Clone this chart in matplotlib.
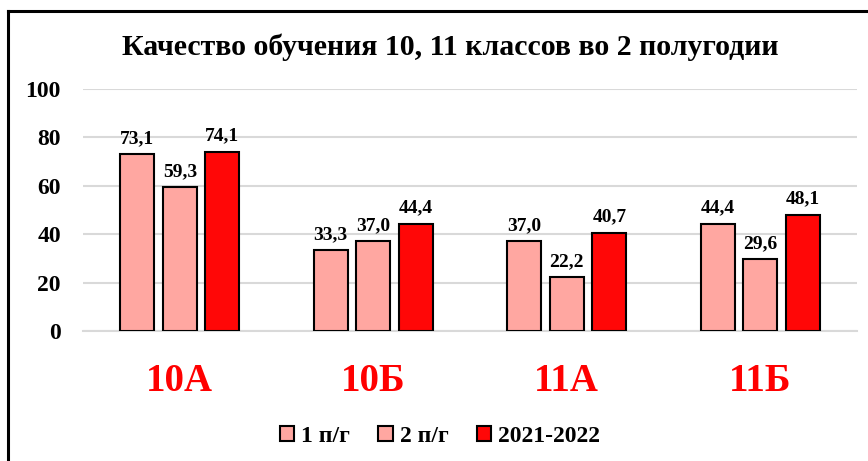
import matplotlib
matplotlib.use("Agg")
import matplotlib.pyplot as plt
from matplotlib.lines import Line2D
from matplotlib.patches import Patch
import numpy as np

plt.rcParams['font.family'] = ['Liberation Serif', 'DejaVu Serif']
plt.rcParams['font.weight'] = 'bold'

classes = ["10А", "10Б", "11А", "11Б"]
series_names = ["1 п/г", "2 п/г", "2021-2022"]
half1 = [73.1, 33.3, 37.0, 44.4]
half2 = [59.3, 37.0, 22.2, 29.6]
year = [74.1, 44.4, 40.7, 48.1]
colors = ["#FFA7A1", "#FFA7A1", "#FF0707"]
title = "Качество обучения 10, 11 классов во 2 полугодии"

W, H = 868, 461
fig = plt.figure(figsize=(W / 100, H / 100), dpi=100)
ax = fig.add_axes([83 / W, 1 - 331 / H, (857 - 83) / W, (331 - 89) / H])

x = np.arange(len(classes))
width = 0.176
step = 0.22
for i, (vals, col) in enumerate(zip([half1, half2, year], colors)):
    bars = ax.bar(x + (i - 1) * step, vals, width=width, color=col,
                  edgecolor="black", linewidth=1.5, zorder=3)
    for b, v in zip(bars, vals):
        ax.annotate(f"{v:.1f}".replace(".", ","),
                    (b.get_x() + b.get_width() / 2, v),
                    xytext=(0, 5), textcoords="offset points",
                    ha="center", va="bottom", fontsize=14, fontweight="bold")

ax.set_xlim(-0.5, 3.5)
ax.set_ylim(0, 100)
ax.set_yticks(range(0, 101, 20))
ax.yaxis.grid(True, color="#D9D9D9", linewidth=1.5, zorder=0)
ax.set_axisbelow(True)
for s in ["top", "right", "left"]:
    ax.spines[s].set_visible(False)
ax.spines["bottom"].set_color("#D9D9D9")
ax.spines["bottom"].set_linewidth(1.5)
ax.tick_params(axis="y", length=0, pad=16, labelsize=17)
ax.tick_params(axis="x", length=0, pad=23, labelsize=28, labelcolor="#FF0000")
ax.set_xticks(x)
ax.set_xticklabels(classes, fontweight="bold")
for lab in ax.get_yticklabels():
    lab.set_fontweight("bold")

fig.text(450 / W, 1 - 55 / H, title, ha="center", va="baseline",
         fontsize=21.5, fontweight="bold")

handles = [Patch(facecolor=c, edgecolor="black", linewidth=1.5) for c in colors]
fig.legend(handles, series_names, loc="center", bbox_to_anchor=(440 / W, 1 - 436 / H),
           ncol=3, frameon=False, handlelength=0.6, handleheight=0.6,
           handletextpad=0.3, columnspacing=1.2, prop={"weight": "bold", "size": 17})

# frame lines along the left and top edges
fig.add_artist(Line2D([8 / W, 8 / W], [0, 1 - 11 / H], color="black", linewidth=2.2,
                      transform=fig.transFigure))
fig.add_artist(Line2D([8 / W, 1], [1 - 11 / H, 1 - 11 / H], color="black", linewidth=2.2,
                      transform=fig.transFigure))

fig.savefig("out.png", dpi=100, facecolor="white")
